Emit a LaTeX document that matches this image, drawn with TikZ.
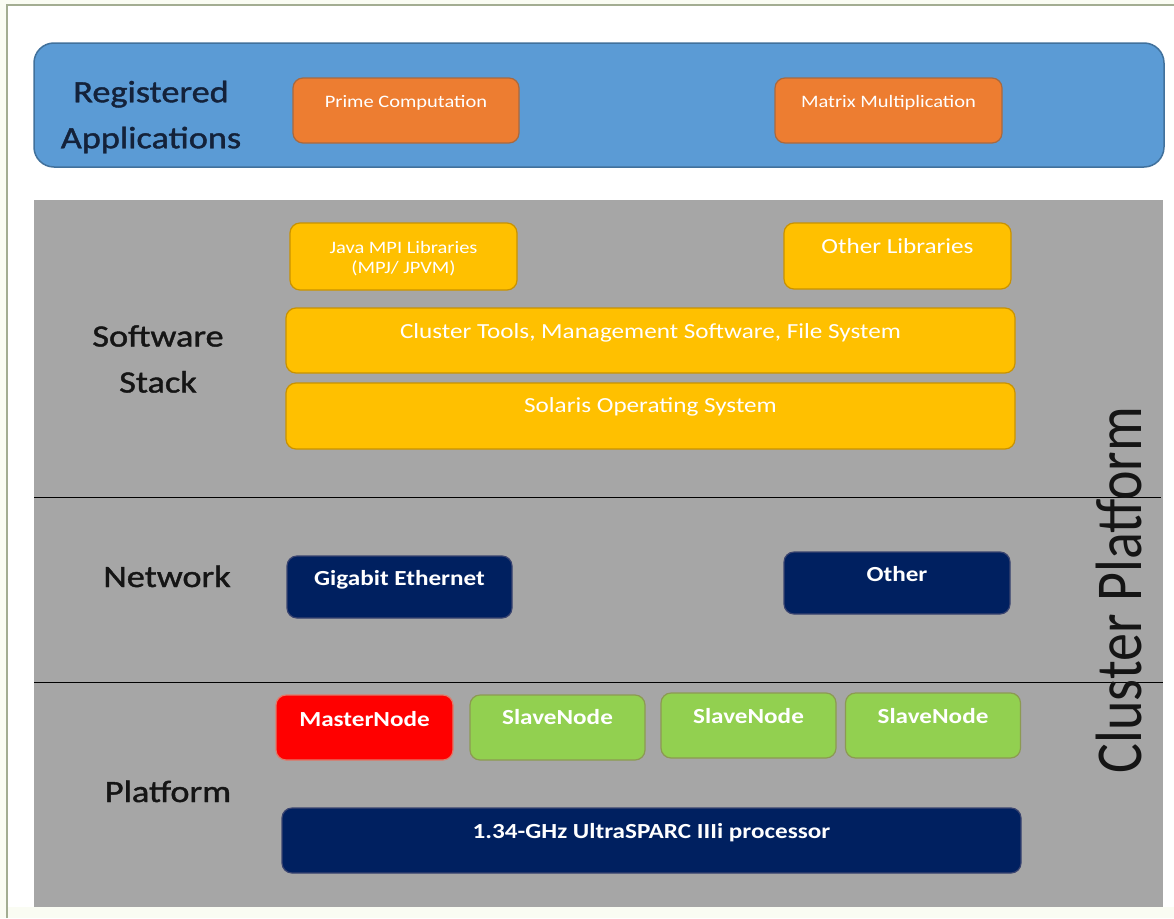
\documentclass[tikz,border=0pt]{standalone}
\usepackage{fontspec}
\setmainfont{Carlito}[FakeStretch=1.17]
\newfontfamily\uprightfont{Carlito}
\newfontfamily\layerface{Carlito}[FakeStretch=1.17, FakeBold=1.3]

\definecolor{pagecream}{HTML}{FAFCF3}
\definecolor{framegreen}{HTML}{A3AD92}
\definecolor{bandblue}{HTML}{5B9BD5}
\definecolor{bandedge}{HTML}{41719C}
\definecolor{appsorange}{HTML}{ED7D31}
\definecolor{orangeedge}{HTML}{A8693F}
\definecolor{panelgray}{HTML}{A6A6A6}
\definecolor{libgold}{HTML}{FFC000}
\definecolor{goldedge}{HTML}{C99200}
\definecolor{netnavy}{HTML}{002060}
\definecolor{navyedge}{HTML}{3A4470}
\definecolor{masterred}{HTML}{FF0000}
\definecolor{rededge}{HTML}{E07A6A}
\definecolor{slavegreen}{HTML}{92D050}
\definecolor{greenedge}{HTML}{8C9A52}
\definecolor{titlenavy}{HTML}{14223A}
\definecolor{labelblack}{HTML}{151515}

\newcommand\layerfont{\layerface\fontsize{31}{46}\selectfont}
\newcommand\tilefont{\fontsize{21.5}{26}\selectfont}
\newcommand\smalltilefont{\fontsize{17.5}{20}\selectfont}

\begin{document}
\begin{tikzpicture}[x=1pt,y=-1pt,
  tile/.style={draw, line width=1.2pt, rounded corners=10pt, inner sep=0pt,
    text=white, font=\tilefont, anchor=base},
  apptile/.style={tile, fill=appsorange, draw=orangeedge, font=\smalltilefont},
  libtile/.style={tile, fill=libgold, draw=goldedge},
  nettile/.style={tile, fill=netnavy, draw=navyedge, font=\tilefont\bfseries},
  mastertile/.style={tile, fill=masterred, draw=rededge, font=\tilefont\bfseries},
  slavetile/.style={tile, fill=slavegreen, draw=greenedge, font=\tilefont\bfseries},
  layer/.style={font=\layerfont, text=labelblack, align=center, inner sep=0pt},
  separator/.style={draw=black, line width=1.3pt}]

% page and frame
\useasboundingbox (0,0) rectangle (1174,918);
\fill[pagecream] (0,0) rectangle (1174,918);
\fill[white] (6,5) rectangle (1174,907);
\draw[framegreen, line width=2pt] (6.5,918) -- (6.5,5) -- (1174,5);

% registered applications band
\node[draw=bandedge, fill=bandblue, line width=1.5pt, rounded corners=20pt,
      minimum width=1130, minimum height=124, inner sep=0pt] (band) at (599,105) {};
\node[layer, text=titlenavy] (appslabel) at (151,117) {Registered\\Applications};
\node[apptile, minimum width=226, text height=29, text depth=36] (prime) at (406,107) {Prime Computation};
\node[apptile, minimum width=227, text height=29, text depth=36] (matrix) at (888.5,107) {Matrix Multiplication};

% cluster platform panel
\node[fill=panelgray, minimum width=1129, minimum height=707, inner sep=0pt] (panel) at (598.5,553.5) {};
\coordinate (sepAw) at (34,497.5);
\coordinate (sepAe) at (1161,497.5);
\coordinate (sepBw) at (34,682.5);
\coordinate (sepBe) at (1163,682.5);
\draw[separator] (sepAw) -- (sepAe);
\draw[separator] (sepBw) -- (sepBe);

\node[rotate=90, inner sep=0pt, text=labelblack] (cluster) at (1119,590)
  {\scalebox{1}[1.17]{\uprightfont\fontsize{56}{60}\selectfont Cluster Platform}};

% software stack
\node[layer] (swlabel) at (158,359) {Software\\Stack};
\node[tile, fill=libgold, draw=goldedge, minimum width=227, minimum height=67] (java) at (403.5,256.5) {};
\node[font=\smalltilefont, text=white, align=center, inner sep=0pt] (javatext) at (403.5,259) {Java MPI Libraries\\(MPJ/ JPVM)};
\node[libtile, minimum width=227, text height=30, text depth=36] (otherlib) at (897.5,253) {Other Libraries};
\node[libtile, minimum width=729, text height=30, text depth=35] (tools) at (650.5,338) {Cluster Tools, Management Software, File System};
\node[libtile, minimum width=729, text height=29, text depth=37] (solaris) at (650.5,412) {Solaris Operating System};

% network
\node[layer, anchor=base] (netlabel) at (167,587) {Network};
\node[nettile, minimum width=225, text height=29, text depth=33] (gige) at (399.5,585) {Gigabit Ethernet};
\node[nettile, minimum width=226, text height=29, text depth=33] (othernet) at (897,581) {Other};

% platform
\node[layer, anchor=base] (platlabel) at (168,802) {Platform};
\node[mastertile, minimum width=177, text height=31, text depth=34] (master) at (364.5,726) {MasterNode};
\node[slavetile, minimum width=175, text height=29, text depth=36] (slaveA) at (557.5,724) {SlaveNode};
\node[slavetile, minimum width=175, text height=30, text depth=35] (slaveB) at (748.5,723) {SlaveNode};
\node[slavetile, minimum width=175, text height=30, text depth=35] (slaveC) at (933,723) {SlaveNode};
\node[nettile, minimum width=739, text height=30, text depth=35] (cpu) at (651.5,838) {1.34-GHz UltraSPARC IIIi processor};
\end{tikzpicture}
\end{document}
